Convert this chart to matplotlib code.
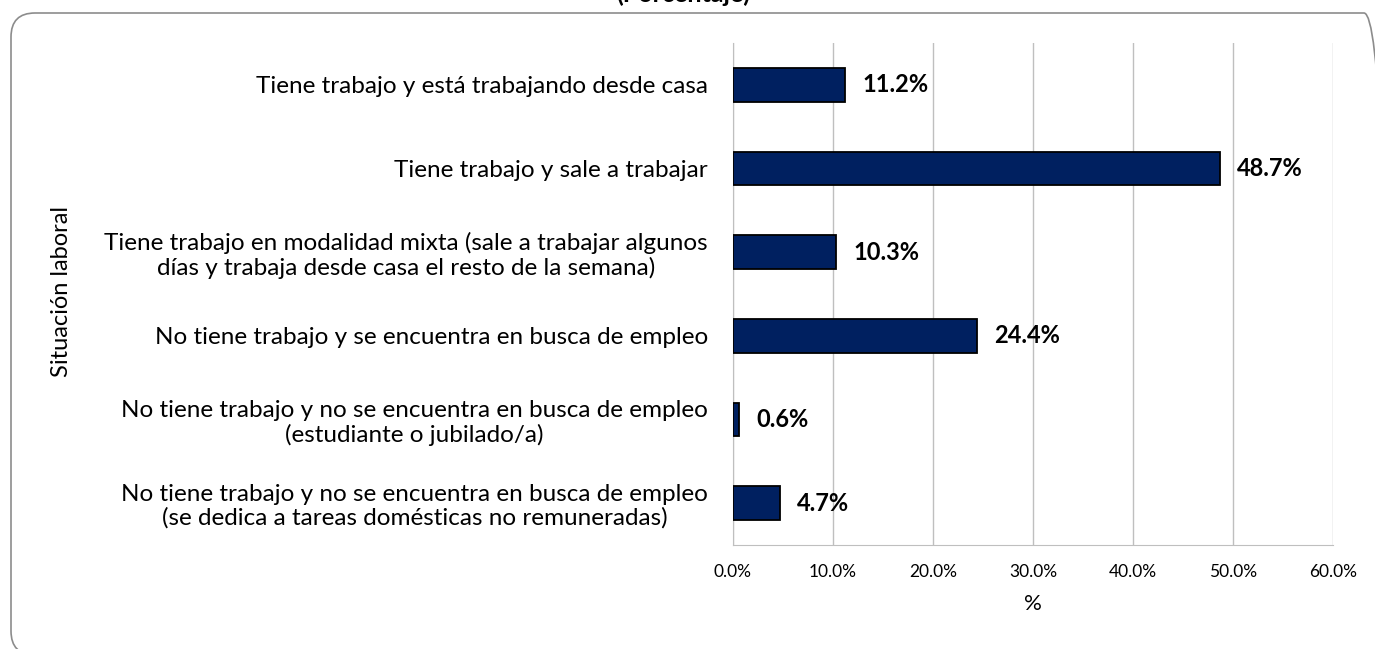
import matplotlib
matplotlib.use("Agg")
import matplotlib.pyplot as plt
from matplotlib.patches import FancyBboxPatch
from matplotlib.ticker import FuncFormatter, MultipleLocator

categories = [
    "Tiene trabajo y está trabajando desde casa",
    "Tiene trabajo y sale a trabajar",
    "Tiene trabajo en modalidad mixta (sale a trabajar algunos\ndías y trabaja desde casa el resto de la semana)",
    "No tiene trabajo y se encuentra en busca de empleo",
    "No tiene trabajo y no se encuentra en busca de empleo\n(estudiante o jubilado/a)",
    "No tiene trabajo y no se encuentra en busca de empleo\n(se dedica a tareas domésticas no remuneradas)",
]
values = [11.2, 48.7, 10.3, 24.4, 0.6, 4.7]

plt.rcParams['font.family'] = ['Lato', 'DejaVu Sans']

W, H = 1375, 649
fig = plt.figure(figsize=(W / 100, H / 100), dpi=100)

# rounded frame (in inches, origin bottom-left)
fx0, fx1 = 11, 1388
fy_top, fy_bot = 13, 655
frame = FancyBboxPatch((fx0 / 100, (H - fy_bot) / 100), (fx1 - fx0) / 100, (fy_bot - fy_top) / 100,
                       boxstyle="round,pad=0,rounding_size=0.24",
                       transform=fig.dpi_scale_trans, fill=False,
                       edgecolor="#8c8c8c", linewidth=1.2, zorder=0)
fig.patches.append(frame)

fig.text(683 / W, 1 - 6 / H, "(Porcentaje)", ha="center", va="bottom",
         fontsize=18, fontweight="bold")

left, right = 733 / W, 1333 / W
top, bottom = 43 / H, 545 / H
ax = fig.add_axes([left, 1 - bottom, right - left, bottom - top])

y = list(range(len(categories)))
ax.barh(y, values, height=0.4, color="#002060", edgecolor="black", linewidth=1.3, zorder=3)
for yi, v in zip(y, values):
    ax.text(v + 1.7, yi, f"{v:.1f}%", va="center", ha="left",
            fontsize=17, fontweight="bold", zorder=4)

ax.set_xlim(0, 60)
ax.set_ylim(len(categories) - 0.5, -0.5)
ax.xaxis.set_major_locator(MultipleLocator(10))
ax.xaxis.set_major_formatter(FuncFormatter(lambda v, p: f"{v:.1f}%"))
ax.set_yticks(y)
ax.set_yticklabels(categories, fontsize=17.5, linespacing=1.15)
ax.tick_params(axis="y", length=0, pad=18)
ax.tick_params(axis="x", length=0, pad=14, labelsize=12.5)
ax.grid(axis="x", color="#bfbfbf", linewidth=1, zorder=0)
for s in ["top", "right"]:
    ax.spines[s].set_visible(False)
ax.spines["left"].set_color("#bfbfbf")
ax.spines["bottom"].set_color("#bfbfbf")
for lbl in ax.get_yticklabels():
    lbl.set_horizontalalignment("right")
    lbl.set_multialignment("center")

ax.set_xlabel("%", fontsize=16, labelpad=10)
fig.text(61 / W, 1 - 292 / H, "Situación laboral", rotation=90,
         ha="center", va="center", fontsize=17)

fig.savefig("out.png", dpi=100)
